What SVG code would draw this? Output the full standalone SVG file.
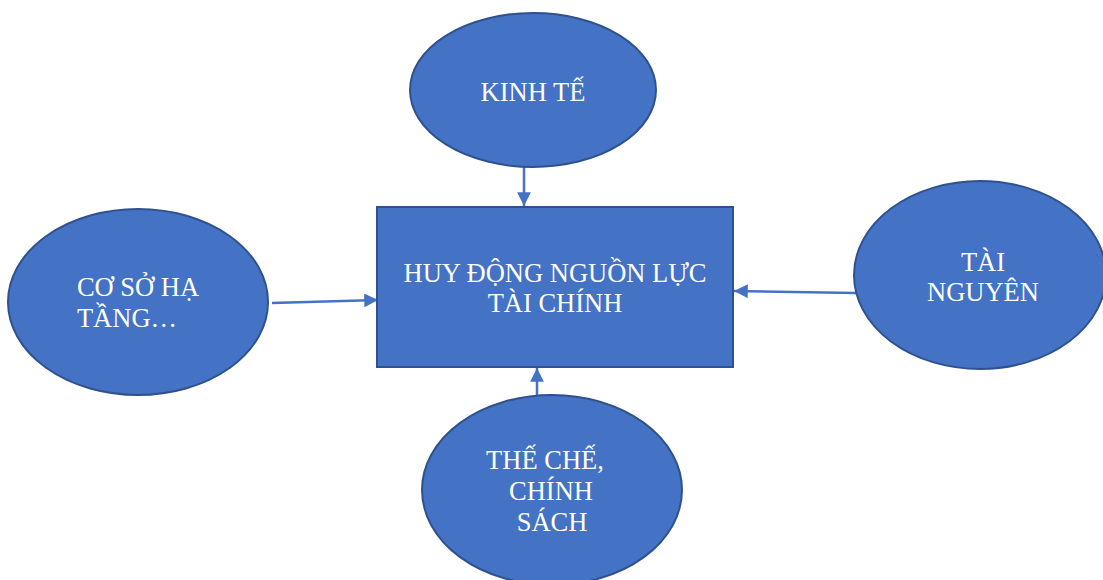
<svg xmlns="http://www.w3.org/2000/svg" width="1103" height="580" viewBox="0 0 1103 580">
<defs>
<style>
.n{fill:#4472C4;stroke:#2F528F;stroke-width:2}
.t{font-family:"Liberation Serif","Times New Roman",serif;font-size:26.5px;fill:#fff;text-anchor:middle}
.c{stroke:#4472C4;stroke-width:2.5;fill:none;marker-end:url(#ah)}
</style>
<marker id="ah" viewBox="0 0 10 10" refX="10" refY="5" markerWidth="5.5" markerHeight="5.5" orient="auto" markerUnits="strokeWidth">
<path d="M0,0 L10,5 L0,10 Z" fill="#4472C4"/>
</marker>
</defs>
<rect width="1103" height="580" fill="#fff"/>
<g id="connectors">
<line class="c" x1="524" y1="167" x2="524" y2="206"/>
<line class="c" x1="272" y1="303" x2="378" y2="300"/>
<line class="c" x1="856" y1="293" x2="734" y2="291"/>
<line class="c" x1="537" y1="395" x2="537" y2="368"/>
</g>
<g id="center">
<rect class="n" x="377" y="207" width="356" height="160"/>
<text class="t" x="555" y="282">HUY ĐỘNG NGUỒN LỰC</text>
<text class="t" x="555" y="312">TÀI CHÍNH</text>
</g>
<g id="kinhte">
<ellipse class="n" cx="533" cy="90" rx="123" ry="77"/>
<text class="t" x="533" y="101">KINH TẾ</text>
</g>
<g id="cosoha">
<ellipse class="n" cx="138" cy="302" rx="130" ry="93"/>
<text class="t" x="138" y="296">CƠ SỞ HẠ</text>
<text class="t" x="127" y="327">TẦNG…</text>
</g>
<g id="tainguyen">
<ellipse class="n" cx="980" cy="275" rx="126" ry="94"/>
<text class="t" x="983" y="271">TÀI</text>
<text class="t" x="983" y="301">NGUYÊN</text>
</g>
<g id="theche">
<ellipse class="n" cx="552" cy="490" rx="130" ry="95"/>
<text class="t" x="545" y="469">THẾ CHẾ,</text>
<text class="t" x="551" y="500">CHÍNH</text>
<text class="t" x="552" y="531">SÁCH</text>
</g>
</svg>
